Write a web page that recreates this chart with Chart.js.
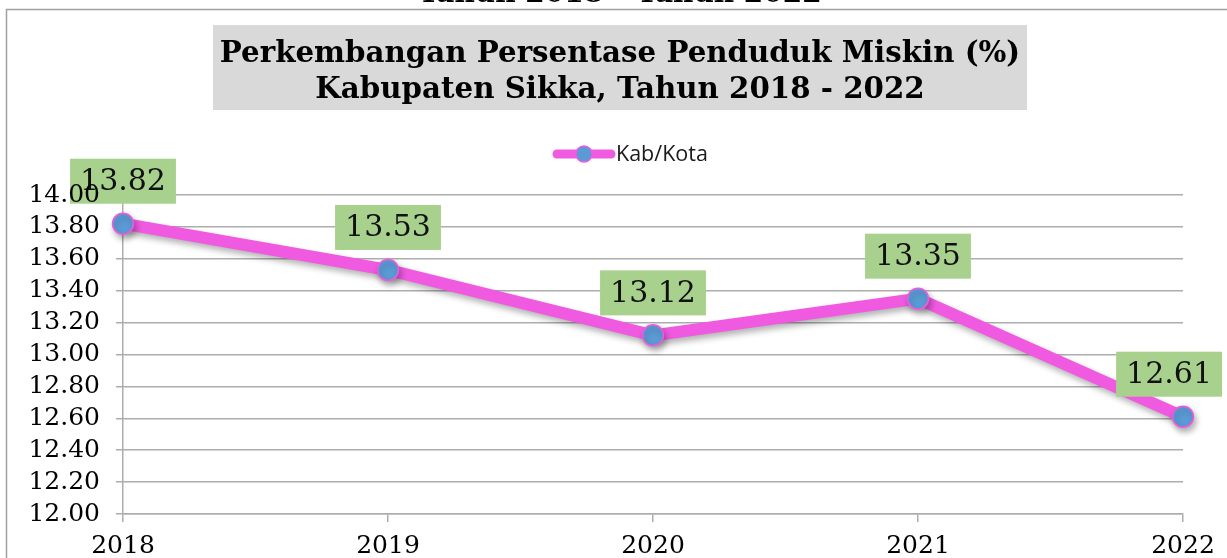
<!DOCTYPE html>
<html>
<head>
<meta charset="utf-8">
<script src="https://cdn.jsdelivr.net/npm/chart.js@4/dist/chart.umd.min.js"></script>
<style>
  html, body { margin: 0; padding: 0; background: #fff; overflow: hidden; }
  #wrap { width: 1227px; height: 558px; }
</style>
</head>
<body>
<div id="wrap"><canvas id="c" width="1227" height="558"></canvas></div>
<script>
const years = ['2018', '2019', '2020', '2021', '2022'];
const kabKota = [13.82, 13.53, 13.12, 13.35, 12.61];
const seriesName = 'Kab/Kota';
const titleLines = ['Perkembangan Persentase Penduduk Miskin (%)', 'Kabupaten Sikka, Tahun 2018 - 2022'];
const topCutText = 'Tahun 2018 \u2013 Tahun 2022';
const yMin = 12, yMax = 14, yStep = 0.2;

const PINK = '#f05ae0';
const BLUE = '#5b9bd5';
const GREEN = '#a9d18e';
const GRID = '#adadad';
const SERIF = '"DejaVu Serif", serif';

const decor = {
  id: 'decor',
  beforeDraw(chart) {
    const ctx = chart.ctx;
    ctx.save();
    ctx.fillStyle = '#fff';
    ctx.fillRect(0, 0, chart.width, chart.height);
    // cut-off heading above frame
    ctx.fillStyle = '#000';
    ctx.font = 'bold 28px ' + SERIF;
    ctx.textAlign = 'center';
    ctx.textBaseline = 'alphabetic';
    ctx.fillText(topCutText, 620, 2);
    // frame
    ctx.strokeStyle = '#a0a0a0';
    ctx.lineWidth = 1.5;
    ctx.strokeRect(6.5, 9.5, 1400, 700);
    // title box
    ctx.fillStyle = '#d9d9d9';
    ctx.fillRect(213, 25, 814, 85);
    ctx.fillStyle = '#000';
    ctx.font = 'bold 27px ' + SERIF;
    const w = ctx.measureText(titleLines[0]).width;
    const fs = 27 * 800 / w;
    ctx.font = 'bold ' + fs.toFixed(1) + 'px ' + SERIF;
    ctx.textBaseline = 'middle';
    ctx.fillText(titleLines[0], 620, 54);
    ctx.fillText(titleLines[1], 620, 90);
    // legend
    ctx.strokeStyle = PINK;
    ctx.lineWidth = 9;
    ctx.lineCap = 'round';
    ctx.beginPath();
    ctx.moveTo(557, 154);
    ctx.lineTo(611, 154);
    ctx.stroke();
    ctx.beginPath();
    ctx.arc(584, 154, 8, 0, Math.PI * 2);
    ctx.fillStyle = BLUE;
    ctx.fill();
    ctx.lineWidth = 1.5;
    ctx.stroke();
    ctx.fillStyle = '#1a1a1a';
    ctx.font = '21.5px "Open Sans", sans-serif';
    ctx.textAlign = 'left';
    ctx.fillText(seriesName, 616, 155);
    ctx.restore();
  },
  beforeDatasetsDraw(chart) {
    const ctx = chart.ctx;
    ctx.save();
    ctx.shadowColor = 'rgba(0,0,0,0.3)';
    ctx.shadowBlur = 6;
    ctx.shadowOffsetX = 2;
    ctx.shadowOffsetY = 4;
  },
  afterDatasetsDraw(chart) {
    const ctx = chart.ctx;
    ctx.restore();
    ctx.save();
    const meta = chart.getDatasetMeta(0);
    ctx.font = '30px ' + SERIF;
    ctx.textAlign = 'center';
    ctx.textBaseline = 'middle';
    meta.data.forEach((pt, i) => {
      const txt = kabKota[i].toFixed(2);
      const tw = ctx.measureText(txt).width;
      const bw = tw + 20, bh = 45;
      let cx = pt.x;
      if (cx + bw / 2 > 1222) cx = 1222 - bw / 2;
      const bottom = pt.y - 20;
      ctx.fillStyle = GREEN;
      ctx.fillRect(cx - bw / 2, bottom - bh, bw, bh);
      ctx.fillStyle = '#111';
      ctx.fillText(txt, cx, bottom - bh / 2 + 1);
    });
    ctx.restore();
  }
};

new Chart(document.getElementById('c'), {
  type: 'line',
  data: {
    labels: years,
    datasets: [{
      label: seriesName,
      data: kabKota,
      yAxisID: 'y',
      borderColor: PINK,
      borderWidth: 12,
      backgroundColor: BLUE,
      pointBackgroundColor: BLUE,
      pointBorderColor: PINK,
      pointBorderWidth: 1.5,
      pointRadius: 10.5,
      pointHoverRadius: 10.5,
      tension: 0,
      clip: false
    }]
  },
  options: {
    responsive: false,
    animation: false,
    devicePixelRatio: 1,
    layout: { padding: { top: 195, right: 44, bottom: 0, left: 0 } },
    plugins: { legend: { display: false }, title: { display: false }, tooltip: { enabled: false } },
    scales: {
      x: {
        offset: false,
        grid: { drawOnChartArea: false, drawTicks: true, tickLength: 8, color: GRID, lineWidth: 1.5 },
        border: { color: GRID, width: 1.5 },
        ticks: { color: '#000', font: { family: 'DejaVu Serif', size: 25 }, padding: 9, maxRotation: 0 },
        afterFit(s) { s.height = 44; }
      },
      y: {
        position: 'left',
        weight: 1,
        min: yMin, max: yMax,
        grid: { color: GRID, lineWidth: 1.5, drawTicks: false },
        border: { display: false },
        ticks: { stepSize: yStep, display: false, autoSkip: false },
        afterFit(s) { s.width = 0; }
      },
      y2: {
        position: 'left',
        weight: 0,
        min: yMin, max: yMax,
        grid: { drawOnChartArea: false, drawTicks: true, color: GRID, tickLength: 7, lineWidth: 1.5 },
        border: { color: GRID, width: 1.5 },
        ticks: {
          z: 1,
          autoSkip: false,
          stepSize: yStep,
          color: '#000',
          font: { family: 'DejaVu Serif', size: 25 },
          padding: 16,
          callback: v => Number(v).toFixed(2)
        },
        afterFit(s) { s.width = 123; }
      }
    }
  },
  plugins: [decor]
});
</script>
</body>
</html>
